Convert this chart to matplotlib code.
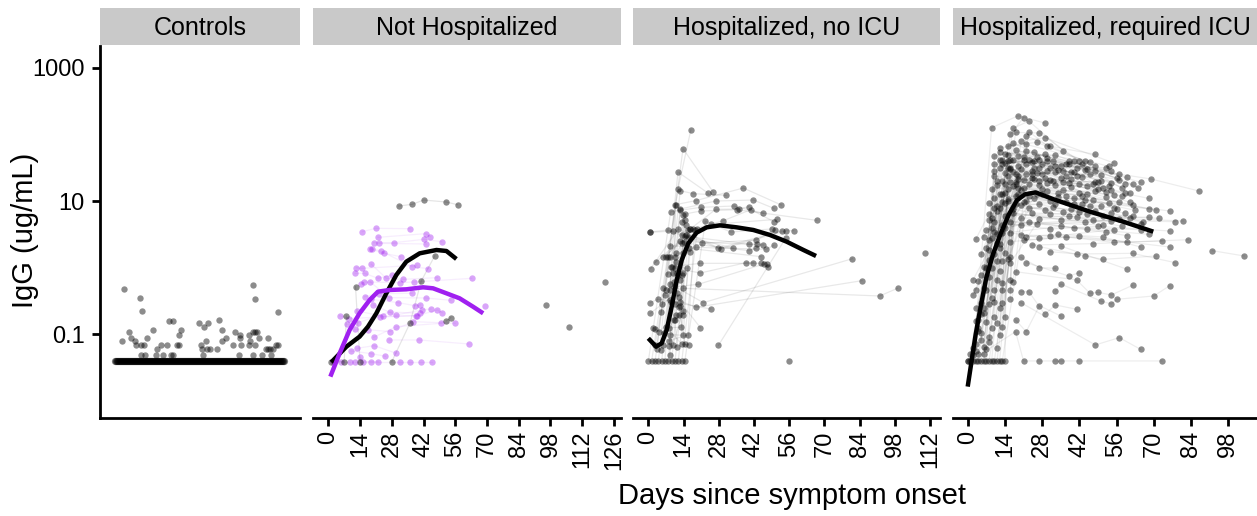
import matplotlib
matplotlib.use("Agg")
import matplotlib.pyplot as plt
from matplotlib.ticker import FixedLocator, FixedFormatter, NullLocator

plt.rcParams['font.family'] = ['Liberation Sans', 'DejaVu Sans']

# ---------------- data ----------------
LOD = 0.04               # IgG assigned to control samples below detection (ug/mL)
CTRL_FLOOR_N = 170       # control samples at the LOD, spread over horizontal positions 0..169
# control samples above LOD: horizontal position and IgG (ug/mL)
ctrl_pos = [9, 25, 27, 14, 7, 16, 20, 21, 26, 29, 32, 38, 26, 30, 42, 41, 46, 48, 52, 54,
            58, 56, 58, 64, 66, 62, 64, 84, 89, 93, 91, 86, 87, 92, 95, 88, 102, 104, 107, 107,
            111, 118, 120, 124, 125, 125, 126, 134, 134, 135, 138, 140, 138, 140, 142, 144, 140, 138, 147, 151,
            153, 153, 155, 156, 158, 161, 163, 163]
ctrl_igg = [0.48, 0.35, 0.22, 0.108, 0.079, 0.088, 0.078, 0.069, 0.069, 0.069, 0.088, 0.117, 0.049, 0.049, 0.060, 0.049, 0.069, 0.049, 0.069, 0.157,
            0.157, 0.049, 0.049, 0.098, 0.117, 0.069, 0.069, 0.148, 0.130, 0.148, 0.079, 0.069, 0.060, 0.060, 0.060, 0.049, 0.060, 0.166, 0.117, 0.079,
            0.088, 0.069, 0.108, 0.049, 0.097, 0.088, 0.069, 0.097, 0.069, 0.079, 0.555, 0.335, 0.108, 0.108, 0.108, 0.088, 0.069, 0.049, 0.049, 0.060,
            0.088, 0.060, 0.060, 0.049, 0.060, 0.069, 0.069, 0.216]

# Not hospitalized: subjects as (day, log10 IgG) series
nh_black_subjects = [
    [(31, 0.925), (37, 0.95), (42, 1.015), (52, 0.985), (57, 0.945)],
    [(28, -1.41), (36, -0.835), (41, -0.2), (47, 0.18)],
    [(1, -1.41), (7, -1.41), (8, -0.725)],
    [(12, -0.285), (14, -1.41)],
    [(52, -0.8), (54, -0.75)],
    [(96, -0.56)], [(106, -0.895)], [(122, -0.215)],
]
nh_purple_subjects = [
    [(15.0, 0.54), (20.9, 0.59), (36.0, 0.585)],
    [(21.9, 0.455), (43.0, 0.51), (45.0, 0.465)],
    [(20.0, 0.375), (29.0, 0.375), (42.2, 0.425), (50.0, 0.39)],
    [(22.2, 0.365), (43.2, 0.355)],
    [(18.2, 0.285), (24.6, 0.215), (31.9, 0.165)],
    [(19.4, 0.285), (23.2, 0.25), (36.9, 0.015), (44.1, -0.015)],
    [(12.4, 0.0), (14.9, -0.01), (39.0, 0.035)],
    [(11.9, -0.085), (16.0, -0.085), (21.9, -0.16), (28.3, -0.11)],
    [(19.0, 0.05), (25.6, -0.16), (33.1, -0.175), (48.1, -0.15)],
    [(14.4, -0.25), (15.75, -0.215), (31.8, -0.225), (37.9, -0.215), (63.25, -0.16)],
    [(18.5, -0.215), (26.9, -0.45), (43.0, -0.455), (54.0, -0.49)],
    [(16.0, -0.435), (22.5, -0.39), (36.9, -0.385)],
    [(19.0, -0.475), (30.9, -0.525), (38.1, -0.57), (40.6, -0.56)],
    [(19.9, -0.56), (29.7, -0.71), (41.3, -0.635), (45.2, -0.62)],
    [(5.0, -0.72), (9.1, -0.765), (22.8, -0.74), (38.8, -0.72)],
    [(12.8, -0.65), (24.1, -0.73), (39.3, -0.72), (48.1, -0.635), (50.2, -0.675)],
    [(8.4, -0.85), (13.1, -0.825), (27.2, -0.665), (40.3, -0.685)],
    [(11.6, -0.925), (17.5, -0.93), (27.1, -0.96), (37.4, -0.81), (56.0, -0.835)],
    [(20.0, -1.045), (29.9, -0.885), (49.9, -0.835)],
    [(26.9, -1.085), (40.0, -1.085), (61.9, -1.145)],
    [(12.8, -1.21), (20.2, -1.17), (30.0, -1.285)],
    [(9.9, -1.25), (19.0, -1.29), (25.2, -1.33)],
    [(13.8, -1.335), (15.3, -1.41), (21.9, -1.41)],
    [(2.2, -1.41), (5.6, -1.41), (9.6, -1.41)],
    [(11.6, -1.41), (18.8, -1.41), (31.5, -1.41), (35.9, -1.41), (41.0, -1.41), (45.9, -1.41)],
    [(69.1, -0.58)],
]
nh_black_curve_day = [1.3, 8.0, 13.8, 17.5, 21.2, 25.6, 30.0, 34.4, 40.3, 47.7, 52.1, 56.5]
nh_black_curve_log = [-1.42, -1.185, -1.035, -0.885, -0.685, -0.385, -0.11, 0.09, 0.215, 0.265, 0.25, 0.13]
nh_purple_curve_day = [0.9, 5.0, 9.4, 13.8, 18.25, 21.9, 27.1, 34.4, 41.8, 46.2, 52.1, 57.9, 63.8, 68.3]
nh_purple_curve_log = [-1.635, -1.285, -0.935, -0.685, -0.485, -0.36, -0.335, -0.325, -0.295, -0.31, -0.385, -0.46, -0.585, -0.685]

# Hospitalized, no ICU
hosp_subjects = [
    [(1.3, -1.405), (11.8, 1.18), (16.9, 2.065)],
    [(2.7, -1.405), (13.8, 1.785), (25.9, 1.13)],
    [(4.0, -1.405), (11.8, 1.435), (23.9, 1.115)],
    [(5.3, -1.405), (12.7, 1.155), (17.9, 1.11), (30.9, 1.085)],
    [(6.6, -1.405), (10.75, 0.945), (18.8, 1.005), (37.8, 1.195), (52.9, 0.94)],
    [(8.0, -1.405), (12.7, 0.88), (26.8, 1.0), (41.8, 1.015), (49.9, 0.89)],
    [(0.0, -1.405), (8.9, 0.84), (20.8, 0.905), (34.0, 0.925), (45.8, 0.815)],
    [(9.3, -1.405), (14.6, 0.805), (20.8, 0.85), (35.4, 0.87), (67.0, 0.71)],
    [(10.6, -1.405), (16.5, 0.575), (26.8, 0.875), (35.9, 0.88), (39.9, 0.915)],
    [(11.9, -1.405), (17.6, 0.575), (29.8, 0.705), (40.8, 0.87), (50.0, 0.69)],
    [(13.3, -1.405), (19.5, 0.575), (25.1, 0.65), (51.3, 0.725)],
    [(14.5, -1.405), (22.7, 0.695), (32.8, 0.535), (49.0, 0.58)],
    [(0.8, 0.535), (7.7, 0.565), (21.4, 0.365), (42.8, 0.415), (50.5, 0.565)],
    [(0.8, 0.53), (9.95, 0.55), (27.9, 0.29), (53.2, 0.555)],
    [(0.9, -0.015), (11.9, 0.58), (28.9, 0.28), (54.9, 0.555), (57.8, 0.555)],
    [(2.9, 0.08), (14.5, 0.47), (33.8, 0.295)],
    [(6.0, 0.165), (15.9, 0.465), (39.9, 0.355), (43.1, 0.355)],
    [(6.9, 0.165), (12.6, 0.395), (45.8, 0.34)],
    [(10.6, 0.165), (13.4, 0.375), (40.0, 0.255), (42.8, 0.29)],
    [(8.8, 0.33), (19.0, 0.305), (46.8, 0.275), (49.9, 0.335)],
    [(7.7, -0.1), (16.2, 0.29), (44.8, 0.165)],
    [(8.9, 0.015), (20.7, 0.065), (44.8, 0.065)],
    [(10.75, -0.01), (20.7, -0.08), (38.9, 0.075), (41.8, 0.075)],
    [(5.8, -0.305), (19.9, -0.25), (46.0, 0.055), (47.1, 0.055), (47.7, 0.005)],
    [(8.5, -0.24), (21.9, -0.525), (81.2, 0.135)],
    [(6.5, -0.41), (19.0, -0.595), (85.0, -0.195)],
    [(13.9, -0.31), (92.0, -0.425), (99.1, -0.31)],
    [(8.9, -0.51), (24.8, -0.62)],
    [(27.9, -1.165), (54.6, 0.44)],
    [(0.8, -0.525), (3.7, -0.475), (12.6, -0.51), (20.7, -0.9)],
    [(0.8, -0.685), (5.6, -0.545), (11.3, -0.385), (12.1, -0.435)],
    [(4.9, -0.665), (10.4, -0.285), (15.1, 0.49)],
    [(1.7, -0.9), (4.4, -0.96), (10.9, -0.71), (13.5, 0.69)],
    [(2.7, -0.925), (6.2, -0.985), (12.3, -0.71), (14.9, 0.64)],
    [(8.1, -0.9), (13.1, -0.895), (13.8, 0.79)],
    [(8.8, -1.005), (13.9, -1.015), (16.7, 0.575)],
    [(8.1, -1.095), (15.8, -1.01), (18.4, 0.565)],
    [(10.4, -0.785), (13.9, -0.715), (14.5, 0.715)],
    [(8.6, -0.335), (9.8, -0.075), (12.7, 0.865)],
    [(11.3, -0.085), (12.7, -0.185), (15.8, 0.565)],
    [(10.6, -0.545), (12.7, -0.575), (13.8, -0.085)],
    [(2.7, -1.165), (8.8, 0.165), (13.3, 0.49)],
    [(6.0, -1.165), (11.1, 0.215), (16.7, 0.24)],
    [(8.4, -1.175), (10.9, 0.09), (13.8, 0.215)],
    [(5.0, -1.235), (9.6, 0.015), (15.4, -0.01)],
    [(8.6, -1.31), (11.8, -0.11), (14.1, 0.39)],
    [(3.3, -1.225), (7.8, 0.155)],
    [(6.9, -0.335), (12.2, -0.585), (14.5, -1.15)],
    [(7.2, -0.885), (13.3, -1.15), (16.1, -1.155)],
    [(8.8, -0.485), (10.5, -0.785), (11.5, -1.185)],
    [(10.1, -0.21), (10.9, 0.94)],
    [(9.8, -1.16), (13.7, -0.65)],
    [(13.5, -0.11)],
    [(110.1, 0.225)],
    [(56.0, -1.405)],
]
hosp_curve_day = [0.0, 3.1, 5.3, 7.3, 9.3, 11.3, 13.3, 15.9, 19.2, 23.2, 28.5, 35.1, 41.8, 48.4, 55.0, 61.7, 66.7]
hosp_curve_log = [-1.06, -1.185, -1.135, -0.935, -0.585, -0.185, 0.115, 0.365, 0.525, 0.605, 0.635, 0.605, 0.565, 0.49, 0.39, 0.265, 0.175]

# Hospitalized, required ICU
icu_subjects = [
    [(2, -1.4), (9, 2.1), (19, 2.28), (29, 2.17)],
    [(4, -1.4), (16, 2.0), (21, 2.25)],
    [(5, -1.4), (17, 2.09), (23, 2.2), (36, 1.75)],
    [(7, -1.4), (18, 2.03), (27, 2.02), (42, 1.6)],
    [(8, -1.4), (22, 1.98), (31, 1.82), (44, 1.6)],
    [(10, -1.4), (23, 2.04), (30, 1.83), (48, 1.7)],
    [(12, -1.4), (20, 1.9), (29, 1.95), (55, 1.57)],
    [(14, -1.4), (15, 1.83), (26, 1.88), (48, 1.53)],
    [(2, -1.31), (12, 1.8), (22, 1.85), (53, 1.52)],
    [(4, -1.3), (17, 1.87), (30, 1.64), (54, 1.45)],
    [(7, -1.225), (10, 1.68), (22, 1.75), (57, 1.4)],
    [(2, -1.21), (12, 1.74), (26, 1.66), (60, 1.36)],
    [(6, -1.185), (15, 1.69), (33, 1.69), (62, 1.25)],
    [(8, -1.11), (18, 1.76), (38, 1.6), (65, 1.28)],
    [(5, -1.085), (10, 1.55), (25, 1.6), (69, 1.33), (87, 1.15)],
    [(8, -1.035), (12, 1.62), (27, 1.5), (40, 1.6), (64, 1.2)],
    [(12, -1.01), (14, 1.57), (30, 1.6), (43, 1.55), (61, 1.12)],
    [(5, -0.985), (16, 1.62), (33, 1.52), (52, 1.5)],
    [(13, -0.885), (19, 1.53), (38, 1.55), (48, 1.45)],
    [(11, -0.835), (21, 1.61), (41, 1.5), (58, 1.2)],
    [(7, -0.81), (10, 1.45), (25, 1.5), (45, 1.48)],
    [(4, -0.785), (12, 1.5), (28, 1.41), (50, 1.39)],
    [(14, -0.735), (17, 1.44), (31, 1.49), (54, 1.27)],
    [(10, -0.735), (14, 1.42), (34, 1.47), (57, 1.32)],
    [(6, -0.685), (20, 1.48), (37, 1.38), (46, 1.41)],
    [(3, -0.61), (22, 1.4), (40, 1.44), (51, 1.19)],
    [(5, -0.535), (10, 1.37), (27, 1.3), (43, 1.36)],
    [(10, -0.51), (13, 1.3), (29, 1.35), (54, 1.17)],
    [(13, -0.535), (15, 1.38), (32, 1.3), (48, 1.29)],
    [(16, -0.475), (18, 1.29), (35, 1.35), (58, 1.07)],
    [(2, -0.41), (21, 1.31), (38, 1.27), (61, 0.98)],
    [(3, -0.335), (24, 1.35), (42, 1.25), (68, 1.04)],
    [(7, -0.335), (9, 1.18), (27, 1.24), (45, 1.23)],
    [(10, -0.335), (11, 1.24), (30, 1.15), (48, 1.15)],
    [(13, -0.335), (15, 1.18), (33, 1.24), (52, 1.06)],
    [(16, -0.335), (17, 1.22), (36, 1.16), (55, 1.09)],
    [(2, -0.185), (20, 1.17), (39, 1.21), (56, 0.88)],
    [(5, -0.11), (23, 1.26), (42, 1.12), (62, 0.94)],
    [(8, -0.135), (10, 1.05), (28, 1.1), (45, 1.1)],
    [(11, -0.185), (12, 1.1), (31, 1.0), (47, 1.02)],
    [(13, -0.235), (15, 1.03), (34, 1.06), (68, 0.88)],
    [(16, -0.185), (18, 1.08), (37, 0.98), (53, 0.97)],
    [(17, -0.21), (21, 0.98), (40, 1.04), (76, 0.85)],
    [(6, 0.015), (25, 1.05), (43, 0.96), (50, 0.93)],
    [(9, -0.01), (11, 0.92), (27, 0.95), (42, 0.83)],
    [(12, -0.045), (14, 0.97), (29, 0.86), (48, 0.85)],
    [(8, 0.115), (17, 0.88), (32, 0.91), (51, 0.77)],
    [(11, 0.105), (20, 0.94), (36, 0.83), (54, 0.82)],
    [(15, 0.125), (23, 0.89), (39, 0.88), (57, 0.73)],
    [(8, 0.965), (24, 0.82), (45, 0.8), (62, 0.78)],
    [(16, 0.065), (27, 0.73), (68, 0.76)],
    [(8, 0.265), (14, 0.77), (31, 0.81), (72, 0.74)],
    [(14, 0.215), (17, 0.82), (35, 0.72), (78, 0.69)],
    [(16, 0.165), (20, 0.74), (38, 0.77), (81, 0.7)],
    [(3, 0.425), (8, 0.81), (41, 0.76), (58, 0.62)],
    [(6, 0.465), (11, 0.85), (44, 0.68), (61, 0.75)],
    [(8, 0.415), (13, 0.64), (47, 0.72), (65, 0.66)],
    [(11, 0.365), (16, 0.69), (51, 0.64)],
    [(7, 0.565), (20, 0.64), (54, 0.7)],
    [(10, 0.54), (23, 0.69), (40, 0.6), (65, 0.57)],
    [(8, 0.715), (26, 0.66), (45, 0.58), (68, 0.5)],
    [(10, 0.69), (31, 0.58), (49, 0.62), (76, 0.55)],
    [(13, 0.515), (35, 0.62), (52, 0.53), (60, 0.48)],
    [(16, 0.525), (27, 0.45), (55, 0.57)],
    [(20, 0.49), (31, 0.48), (60, 0.39)],
    [(22, 0.465), (34, 0.5), (51, 0.46), (65, 0.31)],
    [(16, 0.39), (37, 0.46), (55, 0.38), (73, 0.4)],
    [(21, 0.415), (42, 0.47), (76, 0.31)],
    [(24, 0.34), (47, 0.36), (83, 0.42)],
    [(27, 0.315), (44, 0.175), (51, 0.125), (71, 0.175)],
    [(31, 0.24), (41, 0.205), (62, 0.215), (78, 0.075)],
    [(35, 0.325), (60, -0.025)],
    [(92, 0.255), (104, 0.175)],
    [(20, 0.155), (27, 0.0), (33, -0.01)],
    [(22, 0.075), (38, -0.125), (42, -0.075)],
    [(18, -0.06), (41, -0.185), (46, -0.385), (49, -0.37), (54, -0.41), (62, -0.265)],
    [(33, -0.35), (35, -0.245), (50, -0.5), (54, -0.545), (56, -0.475), (70, -0.425), (76, -0.27)],
    [(20, -0.36), (23, -0.36), (29, -0.7), (33, -0.56), (41, -0.625)],
    [(18, -0.785), (22, -0.96), (27, -0.57), (35, -0.725)],
    [(20, -0.525), (48, -1.16), (57, -1.05), (65, -1.225)],
    [(1, -1.4), (18, -0.96), (21, -1.4), (27, -1.4), (33, -1.4), (35, -1.4), (42, -1.4), (73, -1.4)],
    [(0, -1.4), (3, -1.25), (9, 0.6)],
    [(3, -1.4), (6, -1.3), (11, 1.3)],
    [(6, -1.4), (13, 1.1)],
    [(9, -1.4), (16, 1.5)],
    [(11, -1.4), (19, 1.2)],
    [(13, -1.4), (24, 1.4)],
    [(0, -1.4), (4, -0.9), (10, 0.9)],
    [(1, -1.3), (13, 1.62), (24, 1.58), (39, 1.43)],
    [(3, -1.15), (14, 1.7), (25, 1.73), (44, 1.47)],
    [(4, -0.95), (16, 1.48), (26, 1.42), (47, 1.25)],
    [(6, -0.6), (13, 1.55), (23, 1.62), (35, 1.52)],
    [(9, -0.45), (15, 1.6), (28, 1.55), (50, 1.3)],
    [(9, -0.9), (17, 1.62), (29, 1.7), (46, 1.58)],
    [(11, -1.2), (19, 1.68), (32, 1.6), (56, 1.35)],
    [(3, -0.8), (14, 1.25), (24, 1.45), (39, 1.33)],
    [(6, -0.3), (18, 1.4), (33, 1.43), (59, 1.12)],
    [(12, -0.6), (19, 1.33), (36, 1.28), (53, 1.22)],
    [(4, -0.2), (15, 1.5), (27, 1.62), (41, 1.38)],
    [(7, 0.3), (16, 1.28), (30, 1.27), (49, 1.18)],
    [(9, 0.45), (19, 1.1), (34, 1.12), (57, 0.98)],
    [(12, 0.35), (21, 1.2), (37, 1.08), (63, 0.86)],
    [(5, 0.2), (13, 0.98), (26, 1.1), (44, 1.02)],
    [(14, 0.6), (22, 1.0), (40, 0.95), (59, 0.82)],
    [(9, 0.75), (18, 0.95), (33, 0.96), (55, 0.9)],
    [(12, 0.9), (23, 1.08), (46, 0.92), (66, 0.68)],
    [(15, 1.0), (28, 1.18), (43, 1.08), (71, 0.86)],
    [(7, 0.0), (14, 1.12), (25, 1.33), (52, 1.14)],
    [(10, 0.2), (19, 1.38), (31, 1.32), (49, 1.28)],
    [(13, 0.1), (22, 1.55), (36, 1.45), (59, 1.25)],
    [(5, -0.7), (11, 0.5), (18, 1.25), (30, 1.45)],
    [(8, -0.55), (12, 0.3), (21, 1.66), (37, 1.55)],
]
icu_curve_day = [0, 1.5, 3.0, 5.0, 7.0, 9.5, 12.5, 15.5, 18.5, 21.5, 25.5, 32, 46, 58.5, 69.8]
icu_curve_log = [-1.785, -1.39, -1.0, -0.56, -0.15, 0.2, 0.52, 0.8, 1.01, 1.1, 1.13, 1.03, 0.84, 0.69, 0.54]

panel_titles = ["Controls", "Not Hospitalized", "Hospitalized, no ICU", "Hospitalized, required ICU"]
ytick_vals = [0.1, 10, 1000]
ytick_labels = ["0.1", "10", "1000"]
nh_ticks = [0, 14, 28, 42, 56, 70, 84, 98, 112, 126]
hosp_ticks = [0, 14, 28, 42, 56, 70, 84, 98, 112]
icu_ticks = [0, 14, 28, 42, 56, 70, 84, 98]

# ---------------- style / layout ----------------
PURPLE = "#A020F0"
PT_SIZE = 21
W, H = 1257, 516
fig = plt.figure(figsize=(W / 100, H / 100), dpi=100)
Y0, Y1 = 46, 418          # plot area top/bottom in px
S0, S1 = 8, 45            # strip top/bottom in px
YLIM = (10 ** -2.256, 10 ** 3.326)

panels_px = [(100, 300), (313, 621), (633, 940), (953, 1257)]
xlims = [(-15, 185), (-6.75, 129.1), (-6.09, 116.0), (-5.53, 108.8)]


def make_axes(x0, x1):
    ax = fig.add_axes([x0 / W, 1 - Y1 / H, (x1 - x0) / W, (Y1 - Y0) / H])
    sx = fig.add_axes([x0 / W, 1 - S1 / H, (x1 - x0) / W, (S1 - S0) / H])
    return ax, sx


def style_axes(ax, first):
    ax.set_yscale('log')
    ax.set_ylim(*YLIM)
    for s in ['top', 'right']:
        ax.spines[s].set_visible(False)
    ax.spines['bottom'].set_linewidth(2.0)
    ax.spines['left'].set_linewidth(2.0)
    ax.yaxis.set_minor_locator(NullLocator())
    ax.xaxis.set_minor_locator(NullLocator())
    if first:
        ax.yaxis.set_major_locator(FixedLocator(ytick_vals))
        ax.yaxis.set_major_formatter(FixedFormatter(ytick_labels))
        ax.tick_params(axis='y', direction='out', length=6, width=2, labelsize=17, pad=5)
        ax.set_xticks([])
    else:
        ax.spines['left'].set_visible(False)
        ax.set_yticks([])
        ax.yaxis.set_minor_locator(NullLocator())
        ax.tick_params(axis='x', direction='out', length=6, width=2, labelsize=17, pad=3,
                       labelrotation=90)
    ax.patch.set_alpha(0)


def style_strip(sx, title):
    sx.set_facecolor('#C9C9C9')
    for s in sx.spines.values():
        s.set_visible(False)
    sx.set_xticks([])
    sx.set_yticks([])
    sx.text(0.5, 0.47, title, ha='center', va='center', fontsize=18, transform=sx.transAxes)


def draw_subjects(ax, subjects, color, pt_alpha, line_alpha):
    xs, ys = [], []
    for subj in subjects:
        d = [p[0] for p in subj]
        v = [10 ** p[1] for p in subj]
        if len(subj) > 1:
            ax.plot(d, v, color=color, alpha=line_alpha, lw=0.9, zorder=1)
        xs += d
        ys += v
    ax.scatter(xs, ys, s=PT_SIZE, color=color, alpha=pt_alpha, linewidths=0, zorder=2)


def draw_curve(ax, days, logs, color):
    ax.plot(days, [10 ** v for v in logs], color=color, lw=3.2, zorder=4,
            solid_capstyle='butt', solid_joinstyle='round')


axes = []
for i, ((x0, x1), title) in enumerate(zip(panels_px, panel_titles)):
    ax, sx = make_axes(x0, x1)
    style_axes(ax, i == 0)
    style_strip(sx, title)
    ax.set_xlim(*xlims[i])
    axes.append(ax)

# Controls
ax = axes[0]
floor_pos = list(range(CTRL_FLOOR_N))
ax.scatter(floor_pos, [LOD] * len(floor_pos), s=PT_SIZE + 6, color='black', alpha=0.5,
           linewidths=0, zorder=2)
ax.scatter(ctrl_pos, ctrl_igg, s=PT_SIZE, color='black', alpha=0.45, linewidths=0, zorder=2)

# Not hospitalized
ax = axes[1]
draw_subjects(ax, nh_purple_subjects, PURPLE, 0.4, 0.08)
draw_subjects(ax, nh_black_subjects, 'black', 0.45, 0.1)
draw_curve(ax, nh_black_curve_day, nh_black_curve_log, 'black')
draw_curve(ax, nh_purple_curve_day, nh_purple_curve_log, PURPLE)
ax.set_xticks(nh_ticks)
ax.set_xticklabels([str(t) for t in nh_ticks])

# Hospitalized, no ICU
ax = axes[2]
draw_subjects(ax, hosp_subjects, 'black', 0.45, 0.09)
draw_curve(ax, hosp_curve_day, hosp_curve_log, 'black')
ax.set_xticks(hosp_ticks)
ax.set_xticklabels([str(t) for t in hosp_ticks])

# Hospitalized, required ICU
ax = axes[3]
draw_subjects(ax, icu_subjects, 'black', 0.45, 0.07)
draw_curve(ax, icu_curve_day, icu_curve_log, 'black')
ax.set_xticks(icu_ticks)
ax.set_xticklabels([str(t) for t in icu_ticks])

for ax in axes[1:]:
    for lab in ax.get_xticklabels():
        lab.set_ha('center')
        lab.set_va('top')

fig.text(25 / W, 1 - 230 / H, "IgG (ug/mL)", rotation=90, ha='center', va='center', fontsize=21)
fig.text(792 / W, 1 - 496 / H, "Days since symptom onset", ha='center', va='center', fontsize=21)

fig.savefig("out.png", dpi=100)
